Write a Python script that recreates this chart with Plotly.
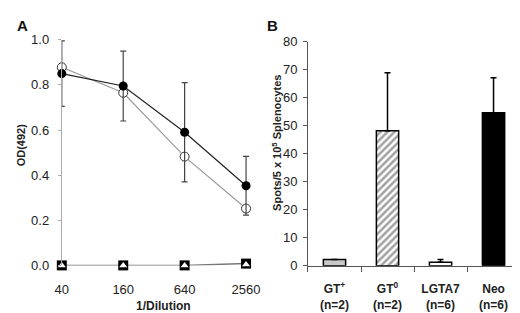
import plotly.graph_objects as go

# ---- Panel A data ----
dilution = [40, 160, 640, 2560]
dilution_labels = ["40", "160", "640", "2560"]
od_filled = [0.85, 0.795, 0.59, 0.353]
od_filled_err = [0.145, 0.155, 0.22, 0.13]
od_open = [0.878, 0.765, 0.482, 0.252]
od_square = [0.0, 0.0, 0.0, 0.008]
od_triangle = [0.0, 0.0, 0.0, 0.004]
od_ticks = [0.0, 0.2, 0.4, 0.6, 0.8, 1.0]

# ---- Panel B data ----
groups = ["GT<sup>+</sup><br>(n=2)", "GT<sup>0</sup><br>(n=2)", "LGTA7<br>(n=6)", "Neo<br>(n=6)"]
spots = [2.2, 48.2, 1.2, 54.6]
spots_err = [0, 20.7, 1.0, 12.5]
spot_ticks = [0, 10, 20, 30, 40, 50, 60, 70, 80]

W, H = 520, 313
def px_x(p): return p / W
def px_y(p): return 1 - p / H

FONT = "Liberation Sans, Arial, sans-serif"
fig = go.Figure()

# Panel A traces
fig.add_trace(go.Scatter(
    x=dilution, y=od_open, mode="lines+markers", xaxis="x", yaxis="y",
    line=dict(color="#9a9a9a", width=1.2),
    marker=dict(symbol="circle", size=9, color="white", line=dict(color="#333", width=1)),
    cliponaxis=False, showlegend=False))
fig.add_trace(go.Scatter(
    x=dilution, y=od_filled, mode="lines+markers", xaxis="x", yaxis="y",
    line=dict(color="#222", width=1.2),
    marker=dict(symbol="circle", size=9, color="black"),
    error_y=dict(type="data", array=od_filled_err, color="#444", thickness=1.2, width=3),
    cliponaxis=False, showlegend=False))
fig.add_trace(go.Scatter(
    x=dilution, y=od_square, mode="lines+markers", xaxis="x", yaxis="y",
    line=dict(color="#777", width=1.5),
    marker=dict(symbol="square", size=10, color="black"),
    cliponaxis=False, showlegend=False))
fig.add_trace(go.Scatter(
    x=dilution, y=od_triangle, mode="markers", xaxis="x", yaxis="y",
    marker=dict(symbol="triangle-up", size=7, color="white"),
    cliponaxis=False, showlegend=False))

# Panel B bars
fig.add_trace(go.Bar(
    x=groups, y=spots, xaxis="x2", yaxis="y2", width=0.42,
    marker=dict(
        color=["#c8c8c8", "white", "white", "black"],
        line=dict(color="black", width=1.5),
        pattern=dict(shape=["", "/", "", ""], fgcolor="black", bgcolor="white",
                     size=5, solidity=0.5)),
    error_y=dict(type="data", array=spots_err, arrayminus=[0, 0, 0, 0],
                 symmetric=False, color="black", thickness=1.5, width=3),
    showlegend=False))

ax_font = dict(family=FONT, size=13, color="#222")

fig.update_layout(
    width=W, height=H, margin=dict(l=0, r=0, t=0, b=0),
    paper_bgcolor="white", plot_bgcolor="white",
    font=dict(family=FONT, size=12, color="#222"),
    xaxis=dict(
        type="log", domain=[px_x(48), px_x(245)], range=[1.602, 3.485],
        tickvals=dilution, ticktext=dilution_labels, ticks="", showline=False,
        showgrid=False, zeroline=False, tickfont=ax_font, ticklabelstandoff=15,
        anchor="y"),
    yaxis=dict(
        domain=[px_y(263), px_y(26)], range=[0, 1.0], tickvals=od_ticks,
        ticktext=[f"{v:.1f}" for v in od_ticks], ticks="outside", ticklen=3,
        tickcolor="#aaa", showline=True, linecolor="#aaa", linewidth=1,
        showgrid=False, zeroline=False, tickfont=ax_font, ticklabelstandoff=6,
        anchor="x"),
    xaxis2=dict(
        domain=[px_x(300.5), px_x(518)], type="category",
        ticks="outside", tickson="boundaries", ticklen=5, tickcolor="#555",
        showline=True, linecolor="#555", linewidth=1, showgrid=False,
        tickfont=dict(family=FONT, size=12, color="#222", weight="bold"),
        ticklabelstandoff=12, anchor="y2"),
    yaxis2=dict(
        domain=[px_y(263.3), px_y(28)], range=[0, 80], tickvals=spot_ticks,
        ticks="outside", ticklen=4, tickcolor="#555", showline=True,
        linecolor="#555", linewidth=1, showgrid=False, zeroline=False,
        tickfont=dict(family=FONT, size=13, color="#222"), ticklabelstandoff=3,
        anchor="x2"),
    annotations=[
        dict(text="<b>A</b>", x=px_x(8), y=px_y(11), xref="paper", yref="paper",
             showarrow=False, font=dict(size=15, family=FONT, color="#111"),
             xanchor="center", yanchor="middle"),
        dict(text="<b>B</b>", x=px_x(264), y=px_y(11), xref="paper", yref="paper",
             showarrow=False, font=dict(size=15, family=FONT, color="#111"),
             xanchor="center", yanchor="middle"),
        dict(text="<b>OD(492)</b>", x=px_x(7), y=px_y(136), xref="paper", yref="paper",
             showarrow=False, textangle=-90, font=dict(size=11, family=FONT, color="#222"),
             xanchor="center", yanchor="middle"),
        dict(text="<b>1/Dilution</b>", x=px_x(152), y=px_y(306), xref="paper", yref="paper",
             showarrow=False, font=dict(size=12, family=FONT, color="#222"),
             xanchor="center", yanchor="middle"),
        dict(text="<b>Spots/5 x 10<sup>5</sup> Splenocytes</b>", x=px_x(268), y=px_y(134),
             xref="paper", yref="paper", showarrow=False, textangle=-90,
             font=dict(size=11, family=FONT, color="#222"),
             xanchor="center", yanchor="middle"),
    ],
)

fig.write_html("out.html")
